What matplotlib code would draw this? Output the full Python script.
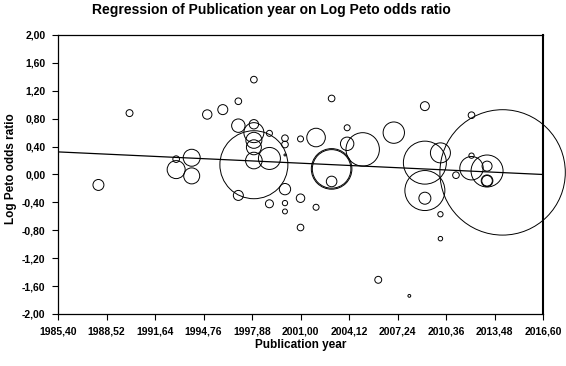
import numpy as np
import matplotlib
matplotlib.use("Agg")
import matplotlib.pyplot as plt
from matplotlib.ticker import FuncFormatter

plt.rcParams['font.family'] = ['Liberation Sans', 'DejaVu Sans']

# publication year, log Peto odds ratio and study weight (bubble area)
year = [1990, 1988, 1993, 1993, 1994, 1994, 1995, 1996, 1997, 1997,
        1997, 1998, 1998, 1998, 1998, 1998, 1998, 1998, 1999, 1999,
        1999, 2000, 2000, 2000, 2000, 2000, 2000, 2001, 2001, 2001,
        2002, 2002, 2003, 2003, 2003, 2003, 2004, 2004, 2005, 2007,
        2006, 2008, 2009, 2009, 2009, 2009, 2010, 2010, 2010, 2011,
        2012, 2012, 2012, 2013, 2013, 2013, 2013, 2014]
log_or = [0.88, -0.15, 0.22, 0.07, 0.24, -0.02, 0.86, 0.93, 1.05, 0.70,
          -0.30, 1.36, 0.72, 0.60, 0.49, 0.39, 0.20, 0.14, 0.23, 0.59,
          -0.42, 0.52, 0.43, 0.28, -0.21, -0.41, -0.53, 0.51, -0.34, -0.76,
          0.53, -0.47, 1.09, 0.08, 0.08, -0.10, 0.67, 0.44, 0.36, 0.60,
          -1.51, -1.74, 0.98, 0.17, -0.23, -0.34, 0.31, -0.57, -0.92, -0.01,
          0.85, 0.27, 0.09, 0.12, -0.09, -0.09, 0.05, 0.03]
weight = [12, 30, 11, 81, 72, 64, 22, 25, 11, 45,
          25, 11, 22, 100, 64, 56, 69, 1156, 121, 9,
          16, 11, 11, 1, 32, 7, 6, 9, 18, 11,
          86, 9, 11, 372, 412, 28, 9, 45, 279, 114,
          12, 2, 20, 462, 400, 36, 100, 7, 5, 11,
          11, 7, 137, 25, 28, 34, 256, 3931]

# fitted meta-regression line: value at 2001 and slope per year
fit_at_2001 = 0.162
fit_slope = -0.01038

x_ticks = [1985.40, 1988.52, 1991.64, 1994.76, 1997.88, 2001.00,
           2004.12, 2007.24, 2010.36, 2013.48, 2016.60]
y_ticks = [2.0, 1.6, 1.2, 0.8, 0.4, 0.0, -0.4, -0.8, -1.2, -1.6, -2.0]

fig = plt.figure(figsize=(5.66, 3.66), dpi=100)
ax = fig.add_axes([0.1025, 0.1421, 0.8569, 0.7623])

sizes = np.array(weight) * (2 * 0.72) ** 2
ax.scatter(year, log_or, s=sizes, facecolors='none', edgecolors='black',
           linewidths=0.7, clip_on=False, zorder=3)

xs = np.array([x_ticks[0], x_ticks[-1]])
ax.plot(xs, fit_at_2001 + fit_slope * (xs - 2001), color='black', lw=0.9, zorder=2)

ax.set_xlim(x_ticks[0], x_ticks[-1])
ax.set_ylim(-2.0, 2.0)
ax.set_xticks(x_ticks)
ax.set_yticks(y_ticks)
comma = FuncFormatter(lambda v, p: f"{v:.2f}".replace('.', ','))
ax.xaxis.set_major_formatter(comma)
ax.yaxis.set_major_formatter(comma)
ax.tick_params(direction='out', length=4, width=0.8, labelsize=7.5, pad=5)
for lab in ax.get_xticklabels() + ax.get_yticklabels():
    lab.set_fontweight('bold')

for side in ['left', 'bottom', 'top']:
    ax.spines[side].set_linewidth(0.9)
ax.spines['right'].set_linewidth(1.5)

fig.text(0.479, 0.972, 'Regression of Publication year on Log Peto odds ratio',
         ha='center', va='center', fontsize=10, fontweight='bold')
fig.text(0.532, 0.058, 'Publication year', ha='center', va='center',
         fontsize=8.5, fontweight='bold')
fig.text(0.02, 0.54, 'Log Peto odds ratio', ha='center', va='center',
         rotation=90, fontsize=8.5, fontweight='bold')

fig.savefig('out.png', dpi=100)
